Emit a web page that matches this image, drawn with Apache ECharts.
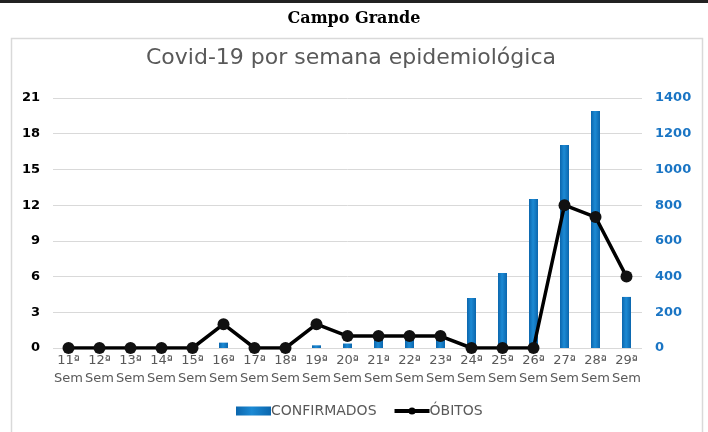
<!DOCTYPE html>
<html>
<head>
<meta charset="utf-8">
<script src="https://cdn.jsdelivr.net/npm/echarts@6/dist/echarts.min.js"></script>
<style>
html,body{margin:0;padding:0;background:#fff;}
#chart{width:708px;height:432px;}
</style>
</head>
<body>
<div id="chart"></div>
<script>
var categories = ['11ª\nSem','12ª\nSem','13ª\nSem','14ª\nSem','15ª\nSem','16ª\nSem','17ª\nSem','18ª\nSem','19ª\nSem','20ª\nSem','21ª\nSem','22ª\nSem','23ª\nSem','24ª\nSem','25ª\nSem','26ª\nSem','27ª\nSem','28ª\nSem','29ª\nSem'];
var confirmados = [0,0,0,0,0,30,10,0,15,25,60,65,90,280,420,834,1137,1327,286];
var obitos = [0,0,0,0,0,2,0,0,2,1,1,1,1,0,0,0,12,11,6];
var leftTicks = {min:0, max:21, interval:3};
var rightTicks = {min:0, max:1400, interval:200};

var chart = echarts.init(document.getElementById('chart'));
var barColor = new echarts.graphic.LinearGradient(0,0,1,0,[
  {offset:0,color:'#0b66ad'},{offset:0.45,color:'#1c8ad4'},{offset:1,color:'#0b66ad'}
]);
chart.setOption({
  animation:false,
  backgroundColor:'#fff',
  graphic:[
    {type:'rect', shape:{x:0,y:0,width:708,height:3}, style:{fill:'#222'}, silent:true},
    {type:'rect', shape:{x:11.5,y:38.5,width:691,height:420}, style:{fill:'none',stroke:'#d9d9d9',lineWidth:1.5}, silent:true}
  ],
  title:[
    {text:'Campo Grande', left:'center', top:6,
     textStyle:{fontFamily:'DejaVu Serif', fontWeight:'bold', fontSize:16, color:'#000'}},
    {text:'Covid-19 por semana epidemiológica', left:141, top:42,
     textStyle:{fontFamily:'DejaVu Sans', fontWeight:'normal', fontSize:22, color:'#595959'}}
  ],
  legend:{
    bottom:9, left:231, itemGap:16, itemWidth:35, itemHeight:9,
    textStyle:{fontFamily:'DejaVu Sans', fontSize:14, color:'#595959', padding:[0,0,0,-5]},
    data:[{name:'CONFIRMADOS', icon:'rect'},{name:'ÓBITOS', itemStyle:{color:'#000'}, lineStyle:{width:4, color:'#000'}}]
  },
  grid:{left:53, right:66, top:98, bottom:84},
  xAxis:{
    type:'category', data:categories, boundaryGap:true,
    axisLine:{show:false}, axisTick:{show:false},
    axisLabel:{interval:0, color:'#595959', fontFamily:'DejaVu Sans', fontSize:13, lineHeight:18, margin:4}
  },
  yAxis:[
    {type:'value', min:leftTicks.min, max:leftTicks.max, interval:leftTicks.interval, position:'left',
     axisLine:{show:false}, axisTick:{show:false},
     splitLine:{lineStyle:{color:'#d9d9d9'}},
     axisLabel:{color:'#000', fontWeight:'bold', fontFamily:'DejaVu Sans', fontSize:13, margin:13}},
    {type:'value', min:rightTicks.min, max:rightTicks.max, interval:rightTicks.interval, position:'right',
     axisLine:{show:false}, axisTick:{show:false}, splitLine:{show:false},
     axisLabel:{color:'#1a75c4', fontWeight:'bold', fontFamily:'DejaVu Sans', fontSize:13, margin:13,
       formatter:function(v){return String(v);}}}
  ],
  series:[
    {name:'CONFIRMADOS', type:'bar', yAxisIndex:1, data:confirmados, barWidth:9,
     itemStyle:{color:barColor}, z:2},
    {name:'ÓBITOS', type:'line', yAxisIndex:0, data:obitos,
     lineStyle:{color:'#000', width:3.5}, itemStyle:{color:'#111'},
     symbol:'circle', symbolSize:12, z:5}
  ]
});
</script>
</body>
</html>
